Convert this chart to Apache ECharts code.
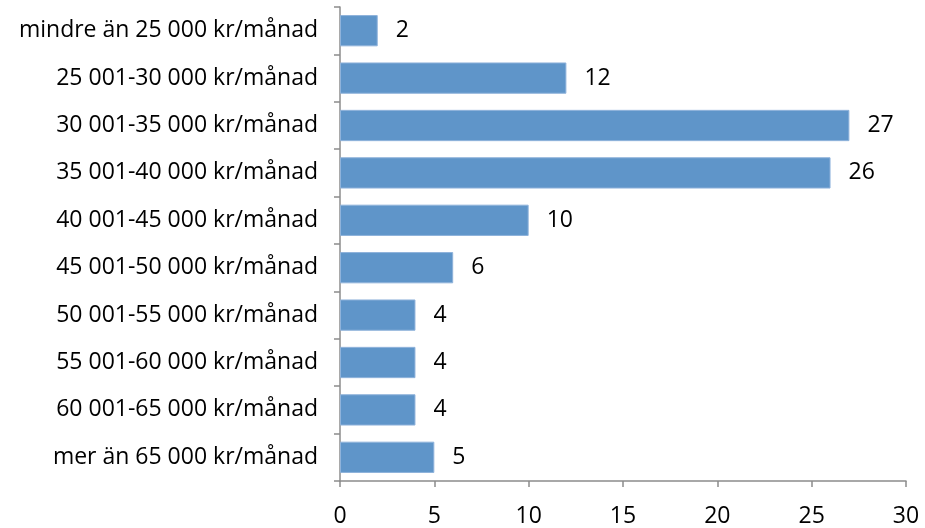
<!DOCTYPE html>
<html>
<head>
<meta charset="utf-8">
<script src="https://cdn.jsdelivr.net/npm/echarts@6/dist/echarts.min.js"></script>
<style>
  html, body { margin: 0; padding: 0; background: #fff; }
  #chart { width: 925px; height: 528px; }
</style>
</head>
<body>
<div id="chart"></div>
<script>
const categories = [
  "mindre än 25 000 kr/månad",
  "25 001-30 000 kr/månad",
  "30 001-35 000 kr/månad",
  "35 001-40 000 kr/månad",
  "40 001-45 000 kr/månad",
  "45 001-50 000 kr/månad",
  "50 001-55 000 kr/månad",
  "55 001-60 000 kr/månad",
  "60 001-65 000 kr/månad",
  "mer än 65 000 kr/månad"
];
const counts = [2, 12, 27, 26, 10, 6, 4, 4, 4, 5];
const xTicks = [0, 5, 10, 15, 20, 25, 30];

const font = "'Open Sans', 'Noto Sans', sans-serif";
const axisGray = "#8c8c8c";

const chart = echarts.init(document.getElementById("chart"));
chart.setOption({
  animation: false,
  grid: { left: 340, right: 19, top: 7, bottom: 47 },
  xAxis: {
    type: "value",
    min: xTicks[0],
    max: xTicks[xTicks.length - 1],
    interval: 5,
    splitLine: { show: false },
    axisLine: { show: true, lineStyle: { color: axisGray, width: 1.5 } },
    axisTick: { show: true, length: 6, lineStyle: { color: axisGray, width: 1.5 } },
    axisLabel: { color: "#000", fontFamily: font, fontSize: 23, margin: 24, lineHeight: 22 }
  },
  yAxis: {
    type: "category",
    inverse: true,
    data: categories,
    axisLine: { show: true, lineStyle: { color: axisGray, width: 1.5 } },
    axisTick: { show: true, length: 6, lineStyle: { color: axisGray, width: 1.5 } },
    axisLabel: { color: "#000", fontFamily: font, fontSize: 23, margin: 22 }
  },
  series: [{
    type: "bar",
    data: counts,
    barCategoryGap: "34%",
    itemStyle: { color: "#5f95c9", borderColor: "#8fb3db", borderWidth: 1 },
    label: {
      show: true,
      position: "right",
      distance: 18,
      color: "#000",
      fontFamily: font,
      fontSize: 23
    }
  }]
});
</script>
</body>
</html>
